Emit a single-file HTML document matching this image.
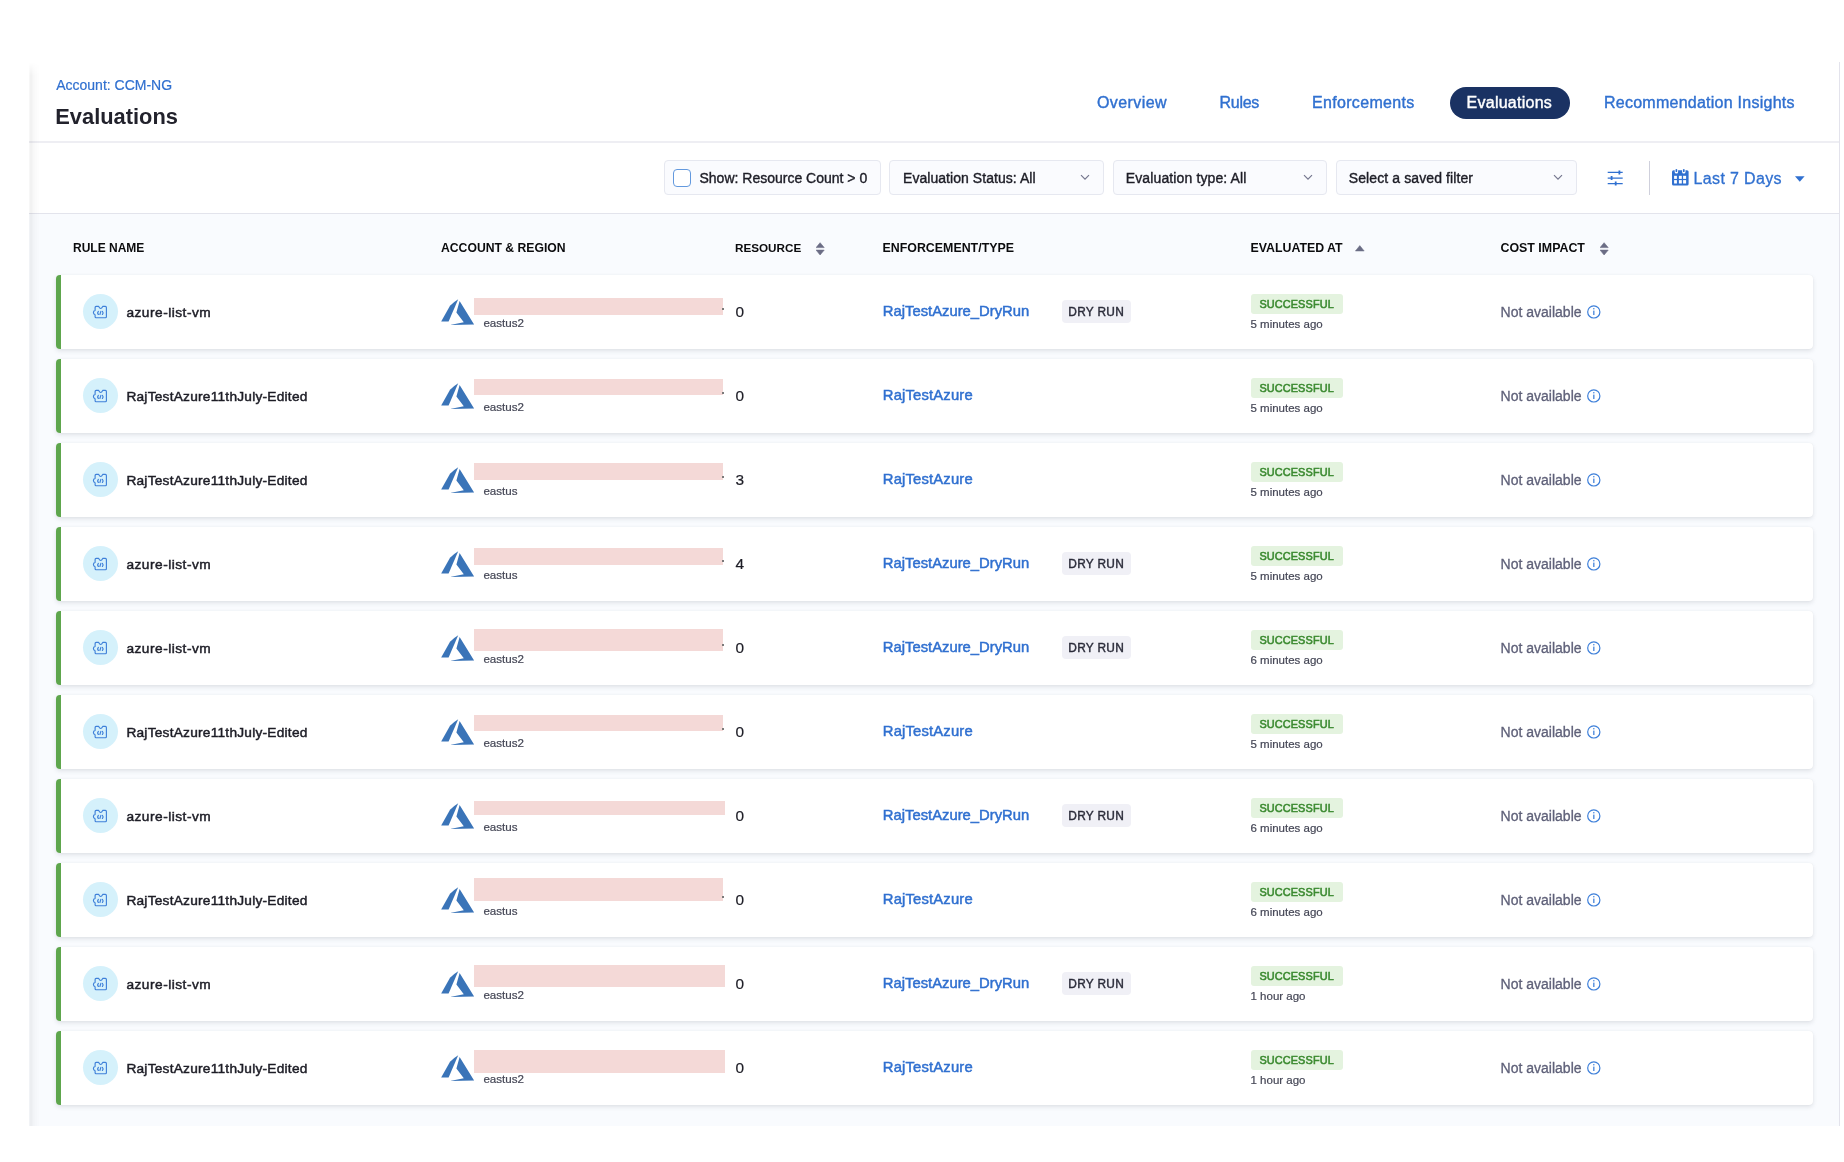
<!DOCTYPE html><html><head><meta charset="utf-8"><style>
*{box-sizing:border-box;margin:0;padding:0}
html,body{width:1844px;height:1162px;overflow:hidden;background:#fff}
body{position:relative;font-family:"Liberation Sans",sans-serif}
#wrap{position:absolute;left:0;top:0;width:1844px;height:1162px;will-change:transform}
.t{position:absolute;white-space:nowrap}
.abs{position:absolute}
.med{-webkit-text-stroke:0.48px currentColor}
.medf{-webkit-text-stroke:0.38px currentColor}
.med2{-webkit-text-stroke:0.4px currentColor}
.semi{-webkit-text-stroke:0.2px currentColor}
</style></head><body><div id="wrap">
<div class="abs" style="left:29px;top:62px;width:1811px;height:1064.4px;background:#fff;border-right:1px solid #e3e3ec"></div><div class="abs" style="left:29px;top:214px;width:1810px;height:912.4px;background:#f9fbfe"></div><div class="abs" style="left:29px;top:141px;width:1810px;height:2px;background:#eeeef3"></div><div class="abs" style="left:29px;top:213px;width:1810px;height:1px;background:#e3e4ec"></div><div class="abs" style="left:29px;top:62px;width:11px;height:1064px;background:linear-gradient(to right,rgba(0,0,0,0.025) 0,rgba(0,0,0,0.06) 2px,rgba(0,0,0,0.025) 5px,rgba(0,0,0,0) 11px);-webkit-mask-image:linear-gradient(to bottom,transparent 0,#000 14px)"></div><div class="t " style="left:56.20px;top:78.25px;font-size:14px;line-height:14px;color:#3070d0;font-weight:normal;-webkit-text-stroke:0.2px currentColor">Account: CCM-NG</div>
<div class="t " style="left:55.30px;top:105.60px;font-size:21.85px;line-height:21.85px;color:#22222c;font-weight:bold;">Evaluations</div>
<div class="t med2" style="left:1097.00px;top:95.16px;font-size:16px;line-height:16px;color:#3070d0;font-weight:normal;letter-spacing:0.4px">Overview</div>
<div class="t med2" style="left:1219.60px;top:95.16px;font-size:16px;line-height:16px;color:#3070d0;font-weight:normal;letter-spacing:-0.3px">Rules</div>
<div class="t med2" style="left:1312.00px;top:95.16px;font-size:16px;line-height:16px;color:#3070d0;font-weight:normal;letter-spacing:0.32px">Enforcements</div>
<div class="abs" style="left:1449.7px;top:87px;width:120px;height:32.4px;border-radius:16.2px;background:#1a3263"></div><div class="t med2" style="left:1466.60px;top:95.16px;font-size:16px;line-height:16px;color:#fff;font-weight:normal;letter-spacing:0.25px">Evaluations</div>
<div class="t med2" style="left:1604.00px;top:95.16px;font-size:16px;line-height:16px;color:#3070d0;font-weight:normal;letter-spacing:0.25px">Recommendation Insights</div>
<div class="abs" style="left:664px;top:160.3px;width:217px;height:35px;border:1px solid #e6e8f0;border-radius:4px;background:#fafbfe"></div><div class="abs" style="left:673px;top:169px;width:18px;height:18px;border:1.2px solid #6399de;border-radius:4px;background:#fff"></div><div class="t medf" style="left:699.50px;top:171.25px;font-size:14px;line-height:14px;color:#1d1d26;font-weight:normal;">Show: Resource Count &gt; 0</div>
<div class="abs" style="left:888.9px;top:160.3px;width:214.69999999999993px;height:35px;border:1px solid #e6e8f0;border-radius:4px;background:#fafbfe"></div><div class="t medf" style="left:903.00px;top:171.25px;font-size:14px;line-height:14px;color:#1d1d26;font-weight:normal;letter-spacing:0.05px">Evaluation Status: All</div>
<svg class="abs" style="left:1079.8px;top:174px" width="10" height="7" viewBox="0 0 10 7"><path d="M1 1.2 L5 5.2 L9 1.2" fill="none" stroke="#74768e" stroke-width="1.15"/></svg><div class="abs" style="left:1112.5px;top:160.3px;width:214.0px;height:35px;border:1px solid #e6e8f0;border-radius:4px;background:#fafbfe"></div><div class="t medf" style="left:1125.80px;top:171.25px;font-size:14px;line-height:14px;color:#1d1d26;font-weight:normal;letter-spacing:0.12px">Evaluation type: All</div>
<svg class="abs" style="left:1302.9px;top:174px" width="10" height="7" viewBox="0 0 10 7"><path d="M1 1.2 L5 5.2 L9 1.2" fill="none" stroke="#74768e" stroke-width="1.15"/></svg><div class="abs" style="left:1335.5px;top:160.3px;width:241.5px;height:35px;border:1px solid #e6e8f0;border-radius:4px;background:#fafbfe"></div><div class="t medf" style="left:1348.80px;top:171.25px;font-size:14px;line-height:14px;color:#1d1d26;font-weight:normal;letter-spacing:0.1px">Select a saved filter</div>
<svg class="abs" style="left:1553.1px;top:174px" width="10" height="7" viewBox="0 0 10 7"><path d="M1 1.2 L5 5.2 L9 1.2" fill="none" stroke="#74768e" stroke-width="1.15"/></svg><svg class="abs" style="left:1606px;top:168px" width="18" height="20" viewBox="0 0 18 20">
<g stroke="#3070d0" stroke-width="1.4" fill="none"><path d="M1.7 4.4H16.7M1.7 10.1H16.7M1.7 15.6H16.7"/><path d="M13.4 2.4V6.4M5.6 8.1V12.1M9.7 13.6V17.6" stroke-width="1.8"/></g></svg><div class="abs" style="left:1649px;top:161px;width:1px;height:34px;background:#cfd0dc"></div><svg class="abs" style="left:1670px;top:166px" width="22" height="22" viewBox="0 0 22 22">
<rect x="2" y="4.2" width="16.6" height="15.4" rx="1.6" fill="#3070d0"/>
<rect x="4.7" y="1" width="3.4" height="6.6" rx="1.7" fill="#fff"/><rect x="12.1" y="1" width="3.4" height="6.6" rx="1.7" fill="#fff"/>
<rect x="5.55" y="2.9" width="1.7" height="3.1" rx="0.85" fill="#3070d0"/><rect x="12.95" y="2.9" width="1.7" height="3.1" rx="0.85" fill="#3070d0"/>
<g fill="#fff"><rect x="4.1" y="9.8" width="2.8" height="3.1"/><rect x="8.9" y="9.8" width="2.9" height="3.1"/><rect x="13.1" y="9.8" width="3" height="3.1"/>
<rect x="4.1" y="14.1" width="2.8" height="3.4"/><rect x="8.9" y="14.1" width="2.9" height="3.4"/><rect x="13.1" y="14.1" width="3" height="3.4"/></g></svg><div class="t " style="left:1693.60px;top:170.76px;font-size:16px;line-height:16px;color:#3070d0;font-weight:normal;letter-spacing:0.35px;-webkit-text-stroke:0.3px currentColor">Last 7 Days</div>
<svg class="abs" style="left:1795px;top:175.5px" width="10" height="6" viewBox="0 0 10 6"><path d="M0 0.2H9.6L4.8 5.8Z" fill="#3070d0"/></svg><div class="t " style="left:73.00px;top:241.94px;font-size:12px;line-height:12px;color:#0b0b0d;font-weight:bold;">RULE NAME</div>
<div class="t " style="left:441.00px;top:241.77px;font-size:12.2px;line-height:12.2px;color:#0b0b0d;font-weight:bold;">ACCOUNT &amp; REGION</div>
<div class="t " style="left:735.00px;top:242.20px;font-size:11.7px;line-height:11.7px;color:#0b0b0d;font-weight:bold;">RESOURCE</div>
<div class="t " style="left:882.50px;top:241.60px;font-size:12.4px;line-height:12.4px;color:#0b0b0d;font-weight:bold;">ENFORCEMENT/TYPE</div>
<div class="t " style="left:1250.50px;top:241.65px;font-size:12.35px;line-height:12.35px;color:#0b0b0d;font-weight:bold;">EVALUATED AT</div>
<div class="t " style="left:1500.50px;top:241.60px;font-size:12.4px;line-height:12.4px;color:#0b0b0d;font-weight:bold;">COST IMPACT</div>
<svg class="abs" style="left:815.8px;top:242px" width="9" height="14" viewBox="0 0 9 14"><path d="M4.1 0.7L8.2 5.6H0.1Z M0.1 8.1H8.2L4.1 13Z" fill="#6b6d85" stroke="#6b6d85" stroke-width="0.6" stroke-linejoin="round"/></svg><svg class="abs" style="left:1599.8px;top:242px" width="9" height="14" viewBox="0 0 9 14"><path d="M4.1 0.7L8.2 5.6H0.1Z M0.1 8.1H8.2L4.1 13Z" fill="#6b6d85" stroke="#6b6d85" stroke-width="0.6" stroke-linejoin="round"/></svg><svg class="abs" style="left:1355px;top:245px" width="10" height="7" viewBox="0 0 10 7"><path d="M4.8 0.6L9.2 6H0.4Z" fill="#6b6d85" stroke="#6b6d85" stroke-width="0.5" stroke-linejoin="round"/></svg><div class="abs" style="left:56px;top:274.5px;width:1757px;height:74.5px;background:#fff;border-radius:4px;box-shadow:0 0 1px rgba(40,41,61,0.08),0 2px 4px rgba(96,97,112,0.16)"></div><div class="abs" style="left:56px;top:274.5px;width:5px;height:74.5px;background:#5ea64d;border-radius:4px 0 0 4px"></div><div class="abs" style="left:82.6px;top:293.8px;width:35.4px;height:35.4px;border-radius:50%;background:#d5f1fb"></div><svg class="abs" style="left:90px;top:303.0px" width="20" height="18" viewBox="0 0 20 18"><g fill="none" stroke="#3f80d9" stroke-width="1.15" stroke-linejoin="round" stroke-linecap="round"><path d="M6.1 3.4H8.7Q10.7 7.6 12.7 3.4H15.4Q16.4 3.4 16.4 4.4V13.7Q16.4 14.7 15.4 14.7H6.1Q5.1 14.7 5.1 13.7V11.8Q3.4 11.4 3.4 9.6Q3.4 7.8 5.1 7.4V4.4Q5.1 3.4 6.1 3.4Z"/><path d="M8.4 8.3Q6.9 9.9 8.4 11.5M10.85 8.4L9.9 11.5M12.4 8.3Q13.9 9.9 12.4 11.5"/></g></svg><div class="t med" style="left:126.40px;top:305.50px;font-size:13.7px;line-height:13.7px;color:#1d1d26;font-weight:normal;letter-spacing:0.5px">azure-list-vm</div>
<svg class="abs" style="left:441.2px;top:298.8px" width="36" height="28" viewBox="0 0 36 28"><path d="M17.2 0.3 Q12 3.5 9.0 6.8 L0.2 22.4 L7.6 22.4 Z" fill="#3a74b8"/><path d="M18.6 1.9 L33.1 25.5 L9.0 26.1 L22.8 23.2 L15.4 13.6 Z" fill="#3a74b8"/></svg><div class="abs" style="left:474.2px;top:297.9px;width:248.5px;height:16.9px;background:#f4d9d7"></div><div class="abs" style="left:722.2px;top:308.3px;width:1.5px;height:1.5px;background:#7a7a7a"></div><div class="t semi" style="left:483.40px;top:317.08px;font-size:11.6px;line-height:11.6px;color:#454756;font-weight:normal;">eastus2</div>
<div class="t semi" style="left:735.60px;top:304.06px;font-size:15.4px;line-height:15.4px;color:#1d1d26;font-weight:normal;">0</div>
<div class="t med" style="left:882.80px;top:303.87px;font-size:14.8px;line-height:14.8px;color:#3070d0;font-weight:normal;">RajTestAzure_DryRun</div>
<div class="abs" style="left:1062px;top:300.2px;width:69px;height:22.7px;border-radius:4px;background:#f0f0f6"></div><div class="t " style="left:1068.30px;top:306.63px;font-size:11.9px;line-height:11.9px;color:#2b2c3a;font-weight:normal;letter-spacing:0.3px;-webkit-text-stroke:0.4px #2b2c3a">DRY RUN</div>
<div class="abs" style="left:1250.7px;top:294.1px;width:92px;height:19.5px;border-radius:3px;background:#e4f3df"></div><div class="t " style="left:1259.40px;top:299.07px;font-size:10.9px;line-height:10.9px;color:#3b8a30;font-weight:normal;letter-spacing:0.12px;-webkit-text-stroke:0.55px currentColor">SUCCESSFUL</div>
<div class="t semi" style="left:1250.50px;top:318.87px;font-size:11.5px;line-height:11.5px;color:#454756;font-weight:normal;">5 minutes ago</div>
<div class="t " style="left:1500.60px;top:305.05px;font-size:14px;line-height:14px;color:#5f6179;font-weight:normal;-webkit-text-stroke:0.3px currentColor">Not available</div>
<svg class="abs" style="left:1585.5px;top:303.8px" width="16" height="16" viewBox="0 0 16 16"><circle cx="7.8" cy="7.9" r="6.1" fill="none" stroke="#3d7fd9" stroke-width="1.2"/><rect x="7.2" y="6.6" width="1.25" height="4.4" fill="#3d7fd9"/><circle cx="7.82" cy="4.8" r="0.75" fill="#3d7fd9"/></svg><div class="abs" style="left:56px;top:358.5px;width:1757px;height:74.5px;background:#fff;border-radius:4px;box-shadow:0 0 1px rgba(40,41,61,0.08),0 2px 4px rgba(96,97,112,0.16)"></div><div class="abs" style="left:56px;top:358.5px;width:5px;height:74.5px;background:#5ea64d;border-radius:4px 0 0 4px"></div><div class="abs" style="left:82.6px;top:377.8px;width:35.4px;height:35.4px;border-radius:50%;background:#d5f1fb"></div><svg class="abs" style="left:90px;top:387.0px" width="20" height="18" viewBox="0 0 20 18"><g fill="none" stroke="#3f80d9" stroke-width="1.15" stroke-linejoin="round" stroke-linecap="round"><path d="M6.1 3.4H8.7Q10.7 7.6 12.7 3.4H15.4Q16.4 3.4 16.4 4.4V13.7Q16.4 14.7 15.4 14.7H6.1Q5.1 14.7 5.1 13.7V11.8Q3.4 11.4 3.4 9.6Q3.4 7.8 5.1 7.4V4.4Q5.1 3.4 6.1 3.4Z"/><path d="M8.4 8.3Q6.9 9.9 8.4 11.5M10.85 8.4L9.9 11.5M12.4 8.3Q13.9 9.9 12.4 11.5"/></g></svg><div class="t med" style="left:126.40px;top:389.50px;font-size:13.7px;line-height:13.7px;color:#1d1d26;font-weight:normal;letter-spacing:0.24px">RajTestAzure11thJuly-Edited</div>
<svg class="abs" style="left:441.2px;top:382.8px" width="36" height="28" viewBox="0 0 36 28"><path d="M17.2 0.3 Q12 3.5 9.0 6.8 L0.2 22.4 L7.6 22.4 Z" fill="#3a74b8"/><path d="M18.6 1.9 L33.1 25.5 L9.0 26.1 L22.8 23.2 L15.4 13.6 Z" fill="#3a74b8"/></svg><div class="abs" style="left:474.2px;top:378.5px;width:248.5px;height:16.9px;background:#f4d9d7"></div><div class="abs" style="left:722.2px;top:392.3px;width:1.5px;height:1.5px;background:#7a7a7a"></div><div class="t semi" style="left:483.40px;top:401.08px;font-size:11.6px;line-height:11.6px;color:#454756;font-weight:normal;">eastus2</div>
<div class="t semi" style="left:735.60px;top:388.06px;font-size:15.4px;line-height:15.4px;color:#1d1d26;font-weight:normal;">0</div>
<div class="t med" style="left:882.80px;top:387.87px;font-size:14.8px;line-height:14.8px;color:#3070d0;font-weight:normal;letter-spacing:0.17px">RajTestAzure</div>
<div class="abs" style="left:1250.7px;top:378.1px;width:92px;height:19.5px;border-radius:3px;background:#e4f3df"></div><div class="t " style="left:1259.40px;top:383.07px;font-size:10.9px;line-height:10.9px;color:#3b8a30;font-weight:normal;letter-spacing:0.12px;-webkit-text-stroke:0.55px currentColor">SUCCESSFUL</div>
<div class="t semi" style="left:1250.50px;top:402.87px;font-size:11.5px;line-height:11.5px;color:#454756;font-weight:normal;">5 minutes ago</div>
<div class="t " style="left:1500.60px;top:389.05px;font-size:14px;line-height:14px;color:#5f6179;font-weight:normal;-webkit-text-stroke:0.3px currentColor">Not available</div>
<svg class="abs" style="left:1585.5px;top:387.8px" width="16" height="16" viewBox="0 0 16 16"><circle cx="7.8" cy="7.9" r="6.1" fill="none" stroke="#3d7fd9" stroke-width="1.2"/><rect x="7.2" y="6.6" width="1.25" height="4.4" fill="#3d7fd9"/><circle cx="7.82" cy="4.8" r="0.75" fill="#3d7fd9"/></svg><div class="abs" style="left:56px;top:442.5px;width:1757px;height:74.5px;background:#fff;border-radius:4px;box-shadow:0 0 1px rgba(40,41,61,0.08),0 2px 4px rgba(96,97,112,0.16)"></div><div class="abs" style="left:56px;top:442.5px;width:5px;height:74.5px;background:#5ea64d;border-radius:4px 0 0 4px"></div><div class="abs" style="left:82.6px;top:461.8px;width:35.4px;height:35.4px;border-radius:50%;background:#d5f1fb"></div><svg class="abs" style="left:90px;top:471.0px" width="20" height="18" viewBox="0 0 20 18"><g fill="none" stroke="#3f80d9" stroke-width="1.15" stroke-linejoin="round" stroke-linecap="round"><path d="M6.1 3.4H8.7Q10.7 7.6 12.7 3.4H15.4Q16.4 3.4 16.4 4.4V13.7Q16.4 14.7 15.4 14.7H6.1Q5.1 14.7 5.1 13.7V11.8Q3.4 11.4 3.4 9.6Q3.4 7.8 5.1 7.4V4.4Q5.1 3.4 6.1 3.4Z"/><path d="M8.4 8.3Q6.9 9.9 8.4 11.5M10.85 8.4L9.9 11.5M12.4 8.3Q13.9 9.9 12.4 11.5"/></g></svg><div class="t med" style="left:126.40px;top:473.50px;font-size:13.7px;line-height:13.7px;color:#1d1d26;font-weight:normal;letter-spacing:0.24px">RajTestAzure11thJuly-Edited</div>
<svg class="abs" style="left:441.2px;top:466.8px" width="36" height="28" viewBox="0 0 36 28"><path d="M17.2 0.3 Q12 3.5 9.0 6.8 L0.2 22.4 L7.6 22.4 Z" fill="#3a74b8"/><path d="M18.6 1.9 L33.1 25.5 L9.0 26.1 L22.8 23.2 L15.4 13.6 Z" fill="#3a74b8"/></svg><div class="abs" style="left:474.2px;top:463.3px;width:248.5px;height:16.5px;background:#f4d9d7"></div><div class="abs" style="left:722.2px;top:476.3px;width:1.5px;height:1.5px;background:#7a7a7a"></div><div class="t semi" style="left:483.40px;top:485.08px;font-size:11.6px;line-height:11.6px;color:#454756;font-weight:normal;">eastus</div>
<div class="t semi" style="left:735.60px;top:472.06px;font-size:15.4px;line-height:15.4px;color:#1d1d26;font-weight:normal;">3</div>
<div class="t med" style="left:882.80px;top:471.87px;font-size:14.8px;line-height:14.8px;color:#3070d0;font-weight:normal;letter-spacing:0.17px">RajTestAzure</div>
<div class="abs" style="left:1250.7px;top:462.1px;width:92px;height:19.5px;border-radius:3px;background:#e4f3df"></div><div class="t " style="left:1259.40px;top:467.07px;font-size:10.9px;line-height:10.9px;color:#3b8a30;font-weight:normal;letter-spacing:0.12px;-webkit-text-stroke:0.55px currentColor">SUCCESSFUL</div>
<div class="t semi" style="left:1250.50px;top:486.87px;font-size:11.5px;line-height:11.5px;color:#454756;font-weight:normal;">5 minutes ago</div>
<div class="t " style="left:1500.60px;top:473.05px;font-size:14px;line-height:14px;color:#5f6179;font-weight:normal;-webkit-text-stroke:0.3px currentColor">Not available</div>
<svg class="abs" style="left:1585.5px;top:471.8px" width="16" height="16" viewBox="0 0 16 16"><circle cx="7.8" cy="7.9" r="6.1" fill="none" stroke="#3d7fd9" stroke-width="1.2"/><rect x="7.2" y="6.6" width="1.25" height="4.4" fill="#3d7fd9"/><circle cx="7.82" cy="4.8" r="0.75" fill="#3d7fd9"/></svg><div class="abs" style="left:56px;top:526.5px;width:1757px;height:74.5px;background:#fff;border-radius:4px;box-shadow:0 0 1px rgba(40,41,61,0.08),0 2px 4px rgba(96,97,112,0.16)"></div><div class="abs" style="left:56px;top:526.5px;width:5px;height:74.5px;background:#5ea64d;border-radius:4px 0 0 4px"></div><div class="abs" style="left:82.6px;top:545.8px;width:35.4px;height:35.4px;border-radius:50%;background:#d5f1fb"></div><svg class="abs" style="left:90px;top:555.0px" width="20" height="18" viewBox="0 0 20 18"><g fill="none" stroke="#3f80d9" stroke-width="1.15" stroke-linejoin="round" stroke-linecap="round"><path d="M6.1 3.4H8.7Q10.7 7.6 12.7 3.4H15.4Q16.4 3.4 16.4 4.4V13.7Q16.4 14.7 15.4 14.7H6.1Q5.1 14.7 5.1 13.7V11.8Q3.4 11.4 3.4 9.6Q3.4 7.8 5.1 7.4V4.4Q5.1 3.4 6.1 3.4Z"/><path d="M8.4 8.3Q6.9 9.9 8.4 11.5M10.85 8.4L9.9 11.5M12.4 8.3Q13.9 9.9 12.4 11.5"/></g></svg><div class="t med" style="left:126.40px;top:557.50px;font-size:13.7px;line-height:13.7px;color:#1d1d26;font-weight:normal;letter-spacing:0.5px">azure-list-vm</div>
<svg class="abs" style="left:441.2px;top:550.8px" width="36" height="28" viewBox="0 0 36 28"><path d="M17.2 0.3 Q12 3.5 9.0 6.8 L0.2 22.4 L7.6 22.4 Z" fill="#3a74b8"/><path d="M18.6 1.9 L33.1 25.5 L9.0 26.1 L22.8 23.2 L15.4 13.6 Z" fill="#3a74b8"/></svg><div class="abs" style="left:474.2px;top:548.4px;width:248.5px;height:16.5px;background:#f4d9d7"></div><div class="abs" style="left:722.2px;top:560.3px;width:1.5px;height:1.5px;background:#7a7a7a"></div><div class="t semi" style="left:483.40px;top:569.08px;font-size:11.6px;line-height:11.6px;color:#454756;font-weight:normal;">eastus</div>
<div class="t semi" style="left:735.60px;top:556.06px;font-size:15.4px;line-height:15.4px;color:#1d1d26;font-weight:normal;">4</div>
<div class="t med" style="left:882.80px;top:555.87px;font-size:14.8px;line-height:14.8px;color:#3070d0;font-weight:normal;">RajTestAzure_DryRun</div>
<div class="abs" style="left:1062px;top:552.2px;width:69px;height:22.7px;border-radius:4px;background:#f0f0f6"></div><div class="t " style="left:1068.30px;top:558.63px;font-size:11.9px;line-height:11.9px;color:#2b2c3a;font-weight:normal;letter-spacing:0.3px;-webkit-text-stroke:0.4px #2b2c3a">DRY RUN</div>
<div class="abs" style="left:1250.7px;top:546.1px;width:92px;height:19.5px;border-radius:3px;background:#e4f3df"></div><div class="t " style="left:1259.40px;top:551.07px;font-size:10.9px;line-height:10.9px;color:#3b8a30;font-weight:normal;letter-spacing:0.12px;-webkit-text-stroke:0.55px currentColor">SUCCESSFUL</div>
<div class="t semi" style="left:1250.50px;top:570.87px;font-size:11.5px;line-height:11.5px;color:#454756;font-weight:normal;">5 minutes ago</div>
<div class="t " style="left:1500.60px;top:557.05px;font-size:14px;line-height:14px;color:#5f6179;font-weight:normal;-webkit-text-stroke:0.3px currentColor">Not available</div>
<svg class="abs" style="left:1585.5px;top:555.8px" width="16" height="16" viewBox="0 0 16 16"><circle cx="7.8" cy="7.9" r="6.1" fill="none" stroke="#3d7fd9" stroke-width="1.2"/><rect x="7.2" y="6.6" width="1.25" height="4.4" fill="#3d7fd9"/><circle cx="7.82" cy="4.8" r="0.75" fill="#3d7fd9"/></svg><div class="abs" style="left:56px;top:610.5px;width:1757px;height:74.5px;background:#fff;border-radius:4px;box-shadow:0 0 1px rgba(40,41,61,0.08),0 2px 4px rgba(96,97,112,0.16)"></div><div class="abs" style="left:56px;top:610.5px;width:5px;height:74.5px;background:#5ea64d;border-radius:4px 0 0 4px"></div><div class="abs" style="left:82.6px;top:629.8px;width:35.4px;height:35.4px;border-radius:50%;background:#d5f1fb"></div><svg class="abs" style="left:90px;top:639.0px" width="20" height="18" viewBox="0 0 20 18"><g fill="none" stroke="#3f80d9" stroke-width="1.15" stroke-linejoin="round" stroke-linecap="round"><path d="M6.1 3.4H8.7Q10.7 7.6 12.7 3.4H15.4Q16.4 3.4 16.4 4.4V13.7Q16.4 14.7 15.4 14.7H6.1Q5.1 14.7 5.1 13.7V11.8Q3.4 11.4 3.4 9.6Q3.4 7.8 5.1 7.4V4.4Q5.1 3.4 6.1 3.4Z"/><path d="M8.4 8.3Q6.9 9.9 8.4 11.5M10.85 8.4L9.9 11.5M12.4 8.3Q13.9 9.9 12.4 11.5"/></g></svg><div class="t med" style="left:126.40px;top:641.50px;font-size:13.7px;line-height:13.7px;color:#1d1d26;font-weight:normal;letter-spacing:0.5px">azure-list-vm</div>
<svg class="abs" style="left:441.2px;top:634.8px" width="36" height="28" viewBox="0 0 36 28"><path d="M17.2 0.3 Q12 3.5 9.0 6.8 L0.2 22.4 L7.6 22.4 Z" fill="#3a74b8"/><path d="M18.6 1.9 L33.1 25.5 L9.0 26.1 L22.8 23.2 L15.4 13.6 Z" fill="#3a74b8"/></svg><div class="abs" style="left:474.2px;top:628.6px;width:248.5px;height:22.3px;background:#f4d9d7"></div><div class="abs" style="left:722.2px;top:644.3px;width:1.5px;height:1.5px;background:#7a7a7a"></div><div class="t semi" style="left:483.40px;top:653.08px;font-size:11.6px;line-height:11.6px;color:#454756;font-weight:normal;">eastus2</div>
<div class="t semi" style="left:735.60px;top:640.06px;font-size:15.4px;line-height:15.4px;color:#1d1d26;font-weight:normal;">0</div>
<div class="t med" style="left:882.80px;top:639.87px;font-size:14.8px;line-height:14.8px;color:#3070d0;font-weight:normal;">RajTestAzure_DryRun</div>
<div class="abs" style="left:1062px;top:636.2px;width:69px;height:22.7px;border-radius:4px;background:#f0f0f6"></div><div class="t " style="left:1068.30px;top:642.63px;font-size:11.9px;line-height:11.9px;color:#2b2c3a;font-weight:normal;letter-spacing:0.3px;-webkit-text-stroke:0.4px #2b2c3a">DRY RUN</div>
<div class="abs" style="left:1250.7px;top:630.1px;width:92px;height:19.5px;border-radius:3px;background:#e4f3df"></div><div class="t " style="left:1259.40px;top:635.07px;font-size:10.9px;line-height:10.9px;color:#3b8a30;font-weight:normal;letter-spacing:0.12px;-webkit-text-stroke:0.55px currentColor">SUCCESSFUL</div>
<div class="t semi" style="left:1250.50px;top:654.87px;font-size:11.5px;line-height:11.5px;color:#454756;font-weight:normal;">6 minutes ago</div>
<div class="t " style="left:1500.60px;top:641.05px;font-size:14px;line-height:14px;color:#5f6179;font-weight:normal;-webkit-text-stroke:0.3px currentColor">Not available</div>
<svg class="abs" style="left:1585.5px;top:639.8px" width="16" height="16" viewBox="0 0 16 16"><circle cx="7.8" cy="7.9" r="6.1" fill="none" stroke="#3d7fd9" stroke-width="1.2"/><rect x="7.2" y="6.6" width="1.25" height="4.4" fill="#3d7fd9"/><circle cx="7.82" cy="4.8" r="0.75" fill="#3d7fd9"/></svg><div class="abs" style="left:56px;top:694.5px;width:1757px;height:74.5px;background:#fff;border-radius:4px;box-shadow:0 0 1px rgba(40,41,61,0.08),0 2px 4px rgba(96,97,112,0.16)"></div><div class="abs" style="left:56px;top:694.5px;width:5px;height:74.5px;background:#5ea64d;border-radius:4px 0 0 4px"></div><div class="abs" style="left:82.6px;top:713.8px;width:35.4px;height:35.4px;border-radius:50%;background:#d5f1fb"></div><svg class="abs" style="left:90px;top:723.0px" width="20" height="18" viewBox="0 0 20 18"><g fill="none" stroke="#3f80d9" stroke-width="1.15" stroke-linejoin="round" stroke-linecap="round"><path d="M6.1 3.4H8.7Q10.7 7.6 12.7 3.4H15.4Q16.4 3.4 16.4 4.4V13.7Q16.4 14.7 15.4 14.7H6.1Q5.1 14.7 5.1 13.7V11.8Q3.4 11.4 3.4 9.6Q3.4 7.8 5.1 7.4V4.4Q5.1 3.4 6.1 3.4Z"/><path d="M8.4 8.3Q6.9 9.9 8.4 11.5M10.85 8.4L9.9 11.5M12.4 8.3Q13.9 9.9 12.4 11.5"/></g></svg><div class="t med" style="left:126.40px;top:725.50px;font-size:13.7px;line-height:13.7px;color:#1d1d26;font-weight:normal;letter-spacing:0.24px">RajTestAzure11thJuly-Edited</div>
<svg class="abs" style="left:441.2px;top:718.8px" width="36" height="28" viewBox="0 0 36 28"><path d="M17.2 0.3 Q12 3.5 9.0 6.8 L0.2 22.4 L7.6 22.4 Z" fill="#3a74b8"/><path d="M18.6 1.9 L33.1 25.5 L9.0 26.1 L22.8 23.2 L15.4 13.6 Z" fill="#3a74b8"/></svg><div class="abs" style="left:474.2px;top:714.7px;width:248.5px;height:16.1px;background:#f4d9d7"></div><div class="abs" style="left:722.2px;top:728.3px;width:1.5px;height:1.5px;background:#7a7a7a"></div><div class="t semi" style="left:483.40px;top:737.08px;font-size:11.6px;line-height:11.6px;color:#454756;font-weight:normal;">eastus2</div>
<div class="t semi" style="left:735.60px;top:724.06px;font-size:15.4px;line-height:15.4px;color:#1d1d26;font-weight:normal;">0</div>
<div class="t med" style="left:882.80px;top:723.87px;font-size:14.8px;line-height:14.8px;color:#3070d0;font-weight:normal;letter-spacing:0.17px">RajTestAzure</div>
<div class="abs" style="left:1250.7px;top:714.1px;width:92px;height:19.5px;border-radius:3px;background:#e4f3df"></div><div class="t " style="left:1259.40px;top:719.07px;font-size:10.9px;line-height:10.9px;color:#3b8a30;font-weight:normal;letter-spacing:0.12px;-webkit-text-stroke:0.55px currentColor">SUCCESSFUL</div>
<div class="t semi" style="left:1250.50px;top:738.87px;font-size:11.5px;line-height:11.5px;color:#454756;font-weight:normal;">5 minutes ago</div>
<div class="t " style="left:1500.60px;top:725.05px;font-size:14px;line-height:14px;color:#5f6179;font-weight:normal;-webkit-text-stroke:0.3px currentColor">Not available</div>
<svg class="abs" style="left:1585.5px;top:723.8px" width="16" height="16" viewBox="0 0 16 16"><circle cx="7.8" cy="7.9" r="6.1" fill="none" stroke="#3d7fd9" stroke-width="1.2"/><rect x="7.2" y="6.6" width="1.25" height="4.4" fill="#3d7fd9"/><circle cx="7.82" cy="4.8" r="0.75" fill="#3d7fd9"/></svg><div class="abs" style="left:56px;top:778.5px;width:1757px;height:74.5px;background:#fff;border-radius:4px;box-shadow:0 0 1px rgba(40,41,61,0.08),0 2px 4px rgba(96,97,112,0.16)"></div><div class="abs" style="left:56px;top:778.5px;width:5px;height:74.5px;background:#5ea64d;border-radius:4px 0 0 4px"></div><div class="abs" style="left:82.6px;top:797.8px;width:35.4px;height:35.4px;border-radius:50%;background:#d5f1fb"></div><svg class="abs" style="left:90px;top:807.0px" width="20" height="18" viewBox="0 0 20 18"><g fill="none" stroke="#3f80d9" stroke-width="1.15" stroke-linejoin="round" stroke-linecap="round"><path d="M6.1 3.4H8.7Q10.7 7.6 12.7 3.4H15.4Q16.4 3.4 16.4 4.4V13.7Q16.4 14.7 15.4 14.7H6.1Q5.1 14.7 5.1 13.7V11.8Q3.4 11.4 3.4 9.6Q3.4 7.8 5.1 7.4V4.4Q5.1 3.4 6.1 3.4Z"/><path d="M8.4 8.3Q6.9 9.9 8.4 11.5M10.85 8.4L9.9 11.5M12.4 8.3Q13.9 9.9 12.4 11.5"/></g></svg><div class="t med" style="left:126.40px;top:809.50px;font-size:13.7px;line-height:13.7px;color:#1d1d26;font-weight:normal;letter-spacing:0.5px">azure-list-vm</div>
<svg class="abs" style="left:441.2px;top:802.8px" width="36" height="28" viewBox="0 0 36 28"><path d="M17.2 0.3 Q12 3.5 9.0 6.8 L0.2 22.4 L7.6 22.4 Z" fill="#3a74b8"/><path d="M18.6 1.9 L33.1 25.5 L9.0 26.1 L22.8 23.2 L15.4 13.6 Z" fill="#3a74b8"/></svg><div class="abs" style="left:474.2px;top:801.0px;width:250.8px;height:13.9px;background:#f4d9d7"></div><div class="t semi" style="left:483.40px;top:821.08px;font-size:11.6px;line-height:11.6px;color:#454756;font-weight:normal;">eastus</div>
<div class="t semi" style="left:735.60px;top:808.06px;font-size:15.4px;line-height:15.4px;color:#1d1d26;font-weight:normal;">0</div>
<div class="t med" style="left:882.80px;top:807.87px;font-size:14.8px;line-height:14.8px;color:#3070d0;font-weight:normal;">RajTestAzure_DryRun</div>
<div class="abs" style="left:1062px;top:804.2px;width:69px;height:22.7px;border-radius:4px;background:#f0f0f6"></div><div class="t " style="left:1068.30px;top:810.63px;font-size:11.9px;line-height:11.9px;color:#2b2c3a;font-weight:normal;letter-spacing:0.3px;-webkit-text-stroke:0.4px #2b2c3a">DRY RUN</div>
<div class="abs" style="left:1250.7px;top:798.1px;width:92px;height:19.5px;border-radius:3px;background:#e4f3df"></div><div class="t " style="left:1259.40px;top:803.07px;font-size:10.9px;line-height:10.9px;color:#3b8a30;font-weight:normal;letter-spacing:0.12px;-webkit-text-stroke:0.55px currentColor">SUCCESSFUL</div>
<div class="t semi" style="left:1250.50px;top:822.87px;font-size:11.5px;line-height:11.5px;color:#454756;font-weight:normal;">6 minutes ago</div>
<div class="t " style="left:1500.60px;top:809.05px;font-size:14px;line-height:14px;color:#5f6179;font-weight:normal;-webkit-text-stroke:0.3px currentColor">Not available</div>
<svg class="abs" style="left:1585.5px;top:807.8px" width="16" height="16" viewBox="0 0 16 16"><circle cx="7.8" cy="7.9" r="6.1" fill="none" stroke="#3d7fd9" stroke-width="1.2"/><rect x="7.2" y="6.6" width="1.25" height="4.4" fill="#3d7fd9"/><circle cx="7.82" cy="4.8" r="0.75" fill="#3d7fd9"/></svg><div class="abs" style="left:56px;top:862.5px;width:1757px;height:74.5px;background:#fff;border-radius:4px;box-shadow:0 0 1px rgba(40,41,61,0.08),0 2px 4px rgba(96,97,112,0.16)"></div><div class="abs" style="left:56px;top:862.5px;width:5px;height:74.5px;background:#5ea64d;border-radius:4px 0 0 4px"></div><div class="abs" style="left:82.6px;top:881.8px;width:35.4px;height:35.4px;border-radius:50%;background:#d5f1fb"></div><svg class="abs" style="left:90px;top:891.0px" width="20" height="18" viewBox="0 0 20 18"><g fill="none" stroke="#3f80d9" stroke-width="1.15" stroke-linejoin="round" stroke-linecap="round"><path d="M6.1 3.4H8.7Q10.7 7.6 12.7 3.4H15.4Q16.4 3.4 16.4 4.4V13.7Q16.4 14.7 15.4 14.7H6.1Q5.1 14.7 5.1 13.7V11.8Q3.4 11.4 3.4 9.6Q3.4 7.8 5.1 7.4V4.4Q5.1 3.4 6.1 3.4Z"/><path d="M8.4 8.3Q6.9 9.9 8.4 11.5M10.85 8.4L9.9 11.5M12.4 8.3Q13.9 9.9 12.4 11.5"/></g></svg><div class="t med" style="left:126.40px;top:893.50px;font-size:13.7px;line-height:13.7px;color:#1d1d26;font-weight:normal;letter-spacing:0.24px">RajTestAzure11thJuly-Edited</div>
<svg class="abs" style="left:441.2px;top:886.8px" width="36" height="28" viewBox="0 0 36 28"><path d="M17.2 0.3 Q12 3.5 9.0 6.8 L0.2 22.4 L7.6 22.4 Z" fill="#3a74b8"/><path d="M18.6 1.9 L33.1 25.5 L9.0 26.1 L22.8 23.2 L15.4 13.6 Z" fill="#3a74b8"/></svg><div class="abs" style="left:474.2px;top:878.2px;width:248.5px;height:22.5px;background:#f4d9d7"></div><div class="abs" style="left:722.2px;top:896.3px;width:1.5px;height:1.5px;background:#7a7a7a"></div><div class="t semi" style="left:483.40px;top:905.08px;font-size:11.6px;line-height:11.6px;color:#454756;font-weight:normal;">eastus</div>
<div class="t semi" style="left:735.60px;top:892.06px;font-size:15.4px;line-height:15.4px;color:#1d1d26;font-weight:normal;">0</div>
<div class="t med" style="left:882.80px;top:891.87px;font-size:14.8px;line-height:14.8px;color:#3070d0;font-weight:normal;letter-spacing:0.17px">RajTestAzure</div>
<div class="abs" style="left:1250.7px;top:882.1px;width:92px;height:19.5px;border-radius:3px;background:#e4f3df"></div><div class="t " style="left:1259.40px;top:887.07px;font-size:10.9px;line-height:10.9px;color:#3b8a30;font-weight:normal;letter-spacing:0.12px;-webkit-text-stroke:0.55px currentColor">SUCCESSFUL</div>
<div class="t semi" style="left:1250.50px;top:906.87px;font-size:11.5px;line-height:11.5px;color:#454756;font-weight:normal;">6 minutes ago</div>
<div class="t " style="left:1500.60px;top:893.05px;font-size:14px;line-height:14px;color:#5f6179;font-weight:normal;-webkit-text-stroke:0.3px currentColor">Not available</div>
<svg class="abs" style="left:1585.5px;top:891.8px" width="16" height="16" viewBox="0 0 16 16"><circle cx="7.8" cy="7.9" r="6.1" fill="none" stroke="#3d7fd9" stroke-width="1.2"/><rect x="7.2" y="6.6" width="1.25" height="4.4" fill="#3d7fd9"/><circle cx="7.82" cy="4.8" r="0.75" fill="#3d7fd9"/></svg><div class="abs" style="left:56px;top:946.5px;width:1757px;height:74.5px;background:#fff;border-radius:4px;box-shadow:0 0 1px rgba(40,41,61,0.08),0 2px 4px rgba(96,97,112,0.16)"></div><div class="abs" style="left:56px;top:946.5px;width:5px;height:74.5px;background:#5ea64d;border-radius:4px 0 0 4px"></div><div class="abs" style="left:82.6px;top:965.8px;width:35.4px;height:35.4px;border-radius:50%;background:#d5f1fb"></div><svg class="abs" style="left:90px;top:975.0px" width="20" height="18" viewBox="0 0 20 18"><g fill="none" stroke="#3f80d9" stroke-width="1.15" stroke-linejoin="round" stroke-linecap="round"><path d="M6.1 3.4H8.7Q10.7 7.6 12.7 3.4H15.4Q16.4 3.4 16.4 4.4V13.7Q16.4 14.7 15.4 14.7H6.1Q5.1 14.7 5.1 13.7V11.8Q3.4 11.4 3.4 9.6Q3.4 7.8 5.1 7.4V4.4Q5.1 3.4 6.1 3.4Z"/><path d="M8.4 8.3Q6.9 9.9 8.4 11.5M10.85 8.4L9.9 11.5M12.4 8.3Q13.9 9.9 12.4 11.5"/></g></svg><div class="t med" style="left:126.40px;top:977.50px;font-size:13.7px;line-height:13.7px;color:#1d1d26;font-weight:normal;letter-spacing:0.5px">azure-list-vm</div>
<svg class="abs" style="left:441.2px;top:970.8px" width="36" height="28" viewBox="0 0 36 28"><path d="M17.2 0.3 Q12 3.5 9.0 6.8 L0.2 22.4 L7.6 22.4 Z" fill="#3a74b8"/><path d="M18.6 1.9 L33.1 25.5 L9.0 26.1 L22.8 23.2 L15.4 13.6 Z" fill="#3a74b8"/></svg><div class="abs" style="left:474.2px;top:964.7px;width:250.8px;height:21.9px;background:#f4d9d7"></div><div class="t semi" style="left:483.40px;top:989.08px;font-size:11.6px;line-height:11.6px;color:#454756;font-weight:normal;">eastus2</div>
<div class="t semi" style="left:735.60px;top:976.06px;font-size:15.4px;line-height:15.4px;color:#1d1d26;font-weight:normal;">0</div>
<div class="t med" style="left:882.80px;top:975.87px;font-size:14.8px;line-height:14.8px;color:#3070d0;font-weight:normal;">RajTestAzure_DryRun</div>
<div class="abs" style="left:1062px;top:972.2px;width:69px;height:22.7px;border-radius:4px;background:#f0f0f6"></div><div class="t " style="left:1068.30px;top:978.63px;font-size:11.9px;line-height:11.9px;color:#2b2c3a;font-weight:normal;letter-spacing:0.3px;-webkit-text-stroke:0.4px #2b2c3a">DRY RUN</div>
<div class="abs" style="left:1250.7px;top:966.1px;width:92px;height:19.5px;border-radius:3px;background:#e4f3df"></div><div class="t " style="left:1259.40px;top:971.07px;font-size:10.9px;line-height:10.9px;color:#3b8a30;font-weight:normal;letter-spacing:0.12px;-webkit-text-stroke:0.55px currentColor">SUCCESSFUL</div>
<div class="t semi" style="left:1250.50px;top:990.87px;font-size:11.5px;line-height:11.5px;color:#454756;font-weight:normal;">1 hour ago</div>
<div class="t " style="left:1500.60px;top:977.05px;font-size:14px;line-height:14px;color:#5f6179;font-weight:normal;-webkit-text-stroke:0.3px currentColor">Not available</div>
<svg class="abs" style="left:1585.5px;top:975.8px" width="16" height="16" viewBox="0 0 16 16"><circle cx="7.8" cy="7.9" r="6.1" fill="none" stroke="#3d7fd9" stroke-width="1.2"/><rect x="7.2" y="6.6" width="1.25" height="4.4" fill="#3d7fd9"/><circle cx="7.82" cy="4.8" r="0.75" fill="#3d7fd9"/></svg><div class="abs" style="left:56px;top:1030.5px;width:1757px;height:74.5px;background:#fff;border-radius:4px;box-shadow:0 0 1px rgba(40,41,61,0.08),0 2px 4px rgba(96,97,112,0.16)"></div><div class="abs" style="left:56px;top:1030.5px;width:5px;height:74.5px;background:#5ea64d;border-radius:4px 0 0 4px"></div><div class="abs" style="left:82.6px;top:1049.8px;width:35.4px;height:35.4px;border-radius:50%;background:#d5f1fb"></div><svg class="abs" style="left:90px;top:1059.0px" width="20" height="18" viewBox="0 0 20 18"><g fill="none" stroke="#3f80d9" stroke-width="1.15" stroke-linejoin="round" stroke-linecap="round"><path d="M6.1 3.4H8.7Q10.7 7.6 12.7 3.4H15.4Q16.4 3.4 16.4 4.4V13.7Q16.4 14.7 15.4 14.7H6.1Q5.1 14.7 5.1 13.7V11.8Q3.4 11.4 3.4 9.6Q3.4 7.8 5.1 7.4V4.4Q5.1 3.4 6.1 3.4Z"/><path d="M8.4 8.3Q6.9 9.9 8.4 11.5M10.85 8.4L9.9 11.5M12.4 8.3Q13.9 9.9 12.4 11.5"/></g></svg><div class="t med" style="left:126.40px;top:1061.50px;font-size:13.7px;line-height:13.7px;color:#1d1d26;font-weight:normal;letter-spacing:0.24px">RajTestAzure11thJuly-Edited</div>
<svg class="abs" style="left:441.2px;top:1054.8px" width="36" height="28" viewBox="0 0 36 28"><path d="M17.2 0.3 Q12 3.5 9.0 6.8 L0.2 22.4 L7.6 22.4 Z" fill="#3a74b8"/><path d="M18.6 1.9 L33.1 25.5 L9.0 26.1 L22.8 23.2 L15.4 13.6 Z" fill="#3a74b8"/></svg><div class="abs" style="left:474.2px;top:1050.4px;width:250.8px;height:22.3px;background:#f4d9d7"></div><div class="t semi" style="left:483.40px;top:1073.08px;font-size:11.6px;line-height:11.6px;color:#454756;font-weight:normal;">eastus2</div>
<div class="t semi" style="left:735.60px;top:1060.06px;font-size:15.4px;line-height:15.4px;color:#1d1d26;font-weight:normal;">0</div>
<div class="t med" style="left:882.80px;top:1059.87px;font-size:14.8px;line-height:14.8px;color:#3070d0;font-weight:normal;letter-spacing:0.17px">RajTestAzure</div>
<div class="abs" style="left:1250.7px;top:1050.1px;width:92px;height:19.5px;border-radius:3px;background:#e4f3df"></div><div class="t " style="left:1259.40px;top:1055.07px;font-size:10.9px;line-height:10.9px;color:#3b8a30;font-weight:normal;letter-spacing:0.12px;-webkit-text-stroke:0.55px currentColor">SUCCESSFUL</div>
<div class="t semi" style="left:1250.50px;top:1074.87px;font-size:11.5px;line-height:11.5px;color:#454756;font-weight:normal;">1 hour ago</div>
<div class="t " style="left:1500.60px;top:1061.05px;font-size:14px;line-height:14px;color:#5f6179;font-weight:normal;-webkit-text-stroke:0.3px currentColor">Not available</div>
<svg class="abs" style="left:1585.5px;top:1059.8px" width="16" height="16" viewBox="0 0 16 16"><circle cx="7.8" cy="7.9" r="6.1" fill="none" stroke="#3d7fd9" stroke-width="1.2"/><rect x="7.2" y="6.6" width="1.25" height="4.4" fill="#3d7fd9"/><circle cx="7.82" cy="4.8" r="0.75" fill="#3d7fd9"/></svg></div></body></html>
